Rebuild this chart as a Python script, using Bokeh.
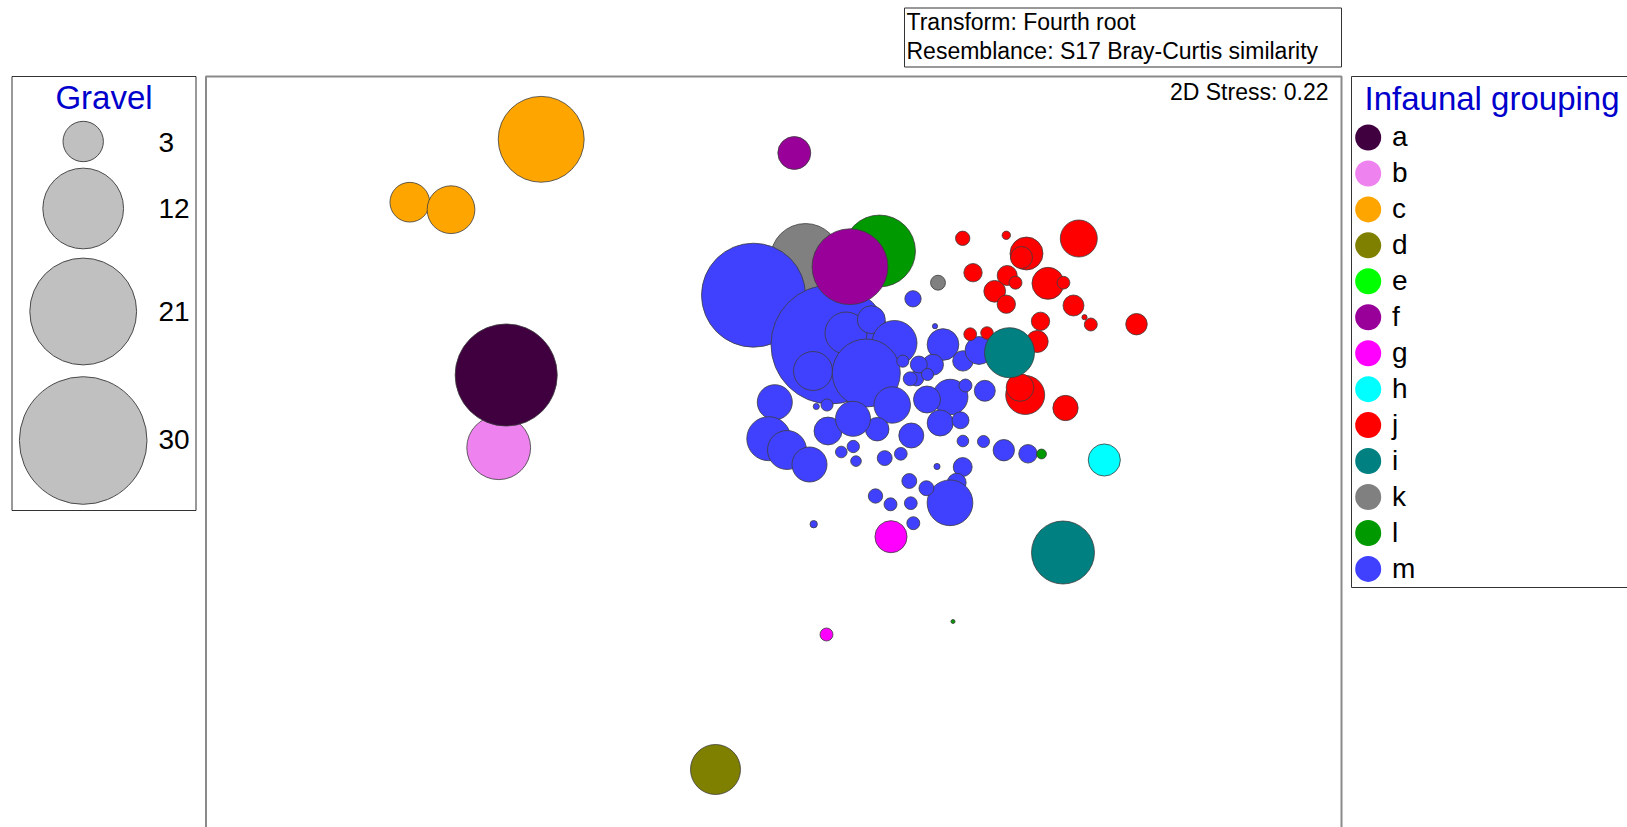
import math
from bokeh.plotting import figure
from bokeh.models import Range1d, Label
from bokeh.embed import file_html
from bokeh.resources import INLINE

# ---------------- data: nMDS ordination of infaunal samples ----------------
# group code, MDS1, MDS2 and gravel content (%) for every sample,
# listed in the order in which the bubbles are drawn
SAMPLE_GROUP = (["k"] * 2 + ["m"] * 56 + ["j"] * 23 + ["b"] + ["a"] + ["c"] * 3 +
                ["d"] + ["g"] * 2 + ["h"] + ["l"] * 3 + ["f"] * 2 + ["i"] * 2)

MDS1 = [
    # k
    0.32, 1.645,
    # m
    -0.2, 0.57, 0.725, 0.978, 1.21, 0.395, 0.753, 0.928, 0.013, -0.047, 0.135, 0.36,
    0.545, 0.535, 0.428, 0.678, 0.798, 0.825, 1.112, 1.273, 1.695, 1.615, 1.595, 1.894,
    2.055, 1.767, 1.535, 1.428, 1.367, 1.187, 1.037, 1.378, 1.667, 1.87, 0.795, 1.894,
    2.1, 2.303, 2.545, 1.635, 1.892, 1.832, 1.765, 1.358, 1.529, 1.02, 1.17, 1.373,
    1.398, 0.402, 1.395, 2.113, 1.453, 1.293, 1.92, 1.54,
    # j
    1.892, 2.328, 3.053, 2.53, 2.48, 1.995, 2.745, 2.9, 2.337, 2.42, 2.212, 2.328,
    3.0, 3.11, 3.173, 3.63, 2.67, 2.637, 1.967, 2.135, 2.517, 2.465, 2.92,
    # b, a
    -2.748, -2.673,
    # c
    -2.323, -3.637, -3.225,
    # d
    -0.58,
    # g
    1.175, 0.53,
    # h
    3.308,
    # l
    1.06, 2.68, 1.795,
    # f
    0.208, 0.765,
    # i
    2.36, 2.895,
]

MDS2 = [
    # k
    2.12, 1.878,
    # m
    1.753, 1.26, 1.375, 1.508, 1.275, 0.995, 1.07, 0.975, 0.683, 0.318, 0.205, 0.06,
    0.395, 0.655, 0.64, 0.185, 0.24, 0.094, 0.124, 0.167, 1.26, 1.443, 1.058, 1.096,
    1.2, 0.735, 0.71, 0.92, 0.917, 0.655, 0.413, 0.35, 0.475, 0.502, 0.517, 0.295,
    0.29, 0.203, 0.167, 0.04, 0.035, -0.122, -0.323, -0.105, -0.177, -0.255, -0.338, -0.327,
    -0.527, -0.537, 1.717, 0.797, 1.06, 1.093, 0.85, 0.96,
    # j
    2.322, 2.352, 2.32, 2.17, 2.13, 1.978, 1.872, 1.878, 1.95, 1.878, 1.792, 1.663,
    1.65, 1.533, 1.46, 1.463, 1.492, 1.29, 1.363, 1.375, 0.755, 0.83, 0.625,
    # b, a
    0.228, 0.955,
    # c
    3.312, 2.683, 2.608,
    # d
    -2.99,
    # g
    -0.662, -1.64,
    # h
    0.105,
    # l
    2.195, 0.165, -1.51,
    # f
    3.175, 2.038,
    # i
    1.178, -0.82,
]

GRAVEL = [
    # k
    9.0, 0.41,
    # m
    19.9, 26.1, 3.25, 1.44, 3.73, 2.8, 1.34, 8.52, 2.26, 3.57, 2.8, 2.26,
    1.44, 0.27, 0.07, 0.25, 0.28, 0.21, 0.41, 0.3, 1.85, 0.05, 0.81, 0.77,
    1.44, 2.32, 1.34, 0.41, 0.36, 2.45, 1.02, 1.15, 1.25, 0.53, 2.26, 0.25,
    0.27, 0.84, 0.63, 0.07, 0.66, 0.66, 3.85, 0.41, 0.41, 0.38, 0.31, 0.3,
    0.31, 0.1, 0.49, 0.81, 0.53, 0.27, 0.31, 0.27,
    # j
    0.38, 0.13, 2.52, 2.0, 0.89, 0.62, 1.89, 0.3, 0.74, 0.31, 0.87, 0.62,
    0.81, 0.05, 0.31, 0.85, 0.62, 0.89, 0.3, 0.29, 2.8, 1.41, 1.18,
    # b, a
    7.5, 19.2,
    # c
    13.6, 2.9, 4.2,
    # d
    4.6,
    # g
    1.9, 0.31,
    # h
    1.9,
    # l
    9.5, 0.18, 0.03,
    # f
    2.0, 10.6,
    # i
    4.6, 7.3,
]

LEGEND_GROUPS = ["a", "b", "c", "d", "e", "f", "g", "h", "j", "i", "k", "l", "m"]
GROUP_COLORS = {
    "a": "#400040", "b": "#EE82EE", "c": "#FFA500", "d": "#808000",
    "e": "#00FF00", "f": "#990099", "g": "#FF00FF", "h": "#00FFFF",
    "j": "#FF0000", "i": "#008080", "k": "#808080", "l": "#009900",
    "m": "#4040FF",
}
GRAVEL_KEY = [3, 12, 21, 30]

TEXT_TRANSFORM = "Transform: Fourth root"
TEXT_RESEMBLANCE = "Resemblance: S17 Bray-Curtis similarity"
TEXT_STRESS = "2D Stress: 0.22"

# ---------------- canvas / coordinate set-up ----------------
W, H = 1627, 827
PX_PER_UNIT = 100.0          # screen pixels per MDS unit (same on both axes)
X0, Y0 = 773.0, 470.0        # canvas pixel of the MDS origin
BUBBLE_K = 23.3              # bubble diameter (px) per sqrt(% gravel)
FONT = "Liberation Sans"
BASELINE_LIFT = 0.3          # em; compensates the label renderer's baseline drop


def cx(px):
    return (px - X0) / PX_PER_UNIT


def cy(py):
    return (Y0 - py) / PX_PER_UNIT


def bubble(g):
    return BUBBLE_K * math.sqrt(g)


p = figure(width=W, height=H, x_range=Range1d(cx(0), cx(W)), y_range=Range1d(cy(H), cy(0)),
           x_axis_type=None, y_axis_type=None, output_backend="svg",
           toolbar_location=None, min_border=0)
p.outline_line_color = None
p.background_fill_color = "white"
p.border_fill_color = "white"


def frame(l, t, r, b, color, width):
    p.quad(left=cx(l), right=cx(r), top=cy(t), bottom=cy(b),
           fill_color=None, line_color=color, line_width=width)


def label(x, y, text, size, color="black", align="left"):
    p.add_layout(Label(x=cx(x), y=cy(y - BASELINE_LIFT * size), text=text, text_font=FONT,
                       text_font_size=f"{size}px", text_color=color,
                       text_align=align, text_baseline="alphabetic"))


# panel, key boxes and caption box
frame(205.5, 76, 1341, 860, "#8a8a8a", 2)
frame(904, 7.5, 1341, 66.5, "#333333", 1)
frame(11.5, 76, 195.5, 510, "#333333", 1)
frame(1351, 76, 1660, 587, "#333333", 1)

label(906, 28.5, TEXT_TRANSFORM, 23)
label(906, 57, TEXT_RESEMBLANCE, 23)
label(1328, 98, TEXT_STRESS, 23, align="right")

# ordination bubbles, drawn group by group
draw_order = []
for g in SAMPLE_GROUP:
    if g not in draw_order:
        draw_order.append(g)
for g in draw_order:
    idx = [i for i, s in enumerate(SAMPLE_GROUP) if s == g]
    p.scatter(x=[MDS1[i] for i in idx], y=[MDS2[i] for i in idx],
              size=[bubble(GRAVEL[i]) for i in idx], marker="circle",
              fill_color=GROUP_COLORS[g], line_color="#3c3c3c", line_width=0.8)

# gravel size key
label(103.5, 107, "Gravel", 33, color="#0000CC", align="center")
key_centres = [141, 208, 311, 440]
key_baselines = [150, 216.5, 319.5, 447.5]
p.scatter(x=[cx(82.7)] * len(GRAVEL_KEY), y=[cy(v) for v in key_centres],
          size=[bubble(g) for g in GRAVEL_KEY], marker="circle",
          fill_color="#C0C0C0", line_color="#4a4a4a", line_width=1)
for g, yb in zip(GRAVEL_KEY, key_baselines):
    label(158, yb, str(g), 28)

# group colour key
label(1364, 108, "Infaunal grouping", 33, color="#0000CC")
row0, row_step = 137.0, 35.95
rows = [row0 + k * row_step for k in range(len(LEGEND_GROUPS))]
p.scatter(x=[cx(1367.7)] * len(LEGEND_GROUPS), y=[cy(r) for r in rows], size=26,
          marker="circle", fill_color=[GROUP_COLORS[g] for g in LEGEND_GROUPS],
          line_color=None)
for g, r in zip(LEGEND_GROUPS, rows):
    label(1391.5, r + 7.5, g, 28)

open("out.html", "w").write(file_html(p, INLINE))
